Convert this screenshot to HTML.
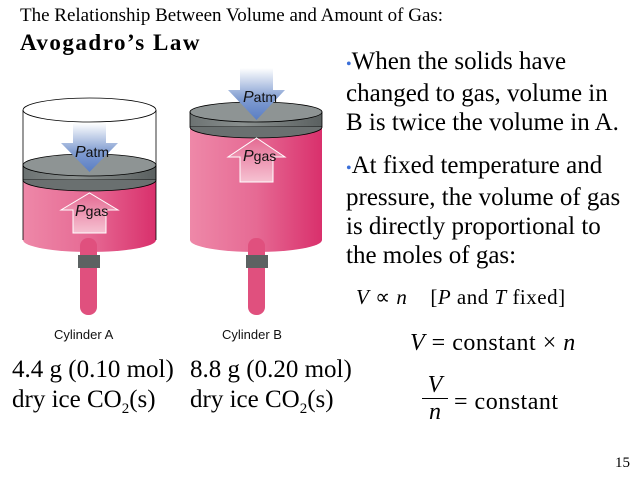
<!DOCTYPE html>
<html><head><meta charset="utf-8"><style>
body{margin:0;width:640px;height:481px;background:#fff;overflow:hidden;position:relative;font-family:"Liberation Serif",serif;}
.t{position:absolute;white-space:nowrap;color:#000;}
</style></head><body>
<svg width="640" height="481" style="position:absolute;left:0;top:0">
<defs>
<linearGradient id="pk" x1="0" x2="1"><stop offset="0" stop-color="#ee88a8"/><stop offset="0.5" stop-color="#e66a94"/><stop offset="1" stop-color="#d9306c"/></linearGradient>
<linearGradient id="gr" x1="0" x2="1"><stop offset="0" stop-color="#6c7272"/><stop offset="0.4" stop-color="#8a908f"/><stop offset="1" stop-color="#5a6060"/></linearGradient>
<linearGradient id="bl" x1="0" y1="0" x2="0" y2="1"><stop offset="0" stop-color="#fff"/><stop offset="0.6" stop-color="#7f9bd0"/><stop offset="1" stop-color="#5a7ec4"/></linearGradient>
<linearGradient id="pu" x1="0" y1="0" x2="0" y2="1"><stop offset="0" stop-color="#e46a92"/><stop offset="1" stop-color="#f6c2d2"/></linearGradient>
</defs>
<rect x="23" y="180" width="133" height="60" fill="url(#pk)"/>
<ellipse cx="89.5" cy="240" rx="66.5" ry="12" fill="url(#pk)"/>
<rect x="23" y="165" width="133" height="15" fill="url(#gr)" stroke="#000" stroke-width="0.8"/>
<ellipse cx="89.5" cy="165" rx="66.5" ry="11" fill="#8e9494" stroke="#000" stroke-width="0.8"/>
<path d="M23 180 A66.5 11 0 0 0 156 180" fill="#6a7070" stroke="#000" stroke-width="0.8"/>
<line x1="23" y1="110" x2="23" y2="240" stroke="#000" stroke-width="0.8"/>
<line x1="156" y1="110" x2="156" y2="240" stroke="#000" stroke-width="0.8"/>
<ellipse cx="89.5" cy="110" rx="66.5" ry="12" fill="none" stroke="#000" stroke-width="0.8"/>
<path d="M73 123 H106 V143 H118 L89.5 172 L61 143 H73Z" fill="url(#bl)"/>
<path d="M73 233 V210 H61 L89.5 193 L118 210 H106 V233Z" fill="url(#pu)" stroke="#fff" stroke-width="1"/>
<rect x="80" y="238" width="17" height="77" rx="8" fill="#e0507e"/>
<rect x="78" y="255" width="22" height="13" fill="#5c6262"/>
<rect x="190" y="127" width="132" height="113" fill="url(#pk)"/>
<ellipse cx="256" cy="240" rx="66" ry="12" fill="url(#pk)"/>
<rect x="190" y="112" width="132" height="15" fill="url(#gr)" stroke="#000" stroke-width="0.8"/>
<ellipse cx="256" cy="112" rx="66" ry="10" fill="#8e9494" stroke="#000" stroke-width="0.8"/>
<path d="M190 127 A66 11 0 0 0 322 127" fill="#6a7070" stroke="#000" stroke-width="0.8"/>
<path d="M240 68 H273 V90 H285 L256.5 120 L228 90 H240Z" fill="url(#bl)"/>
<path d="M240 182 V157 H228 L256.5 138 L285 157 H273 V182Z" fill="url(#pu)" stroke="#fff" stroke-width="1"/>
<rect x="248" y="238" width="17" height="77" rx="8" fill="#e0507e"/>
<rect x="246" y="255" width="22" height="13" fill="#5c6262"/>
<g font-family="Liberation Sans,sans-serif" font-size="14" fill="#111">
<text x="75" y="157"><tspan font-style="italic" font-size="16">P</tspan>atm</text>
<text x="75" y="216"><tspan font-style="italic" font-size="16">P</tspan>gas</text>
<text x="243" y="102"><tspan font-style="italic" font-size="16">P</tspan>atm</text>
<text x="243" y="161"><tspan font-style="italic" font-size="16">P</tspan>gas</text>
<text x="54" y="339" font-size="13">Cylinder A</text>
<text x="222" y="339" font-size="13">Cylinder B</text>
</g>
</svg>
<div class="t" style="left:20px;top:5px;font-size:19px">The Relationship Between Volume and Amount of Gas:</div>
<div class="t" style="left:20px;top:30px;font-size:23px;font-weight:bold;letter-spacing:1.5px">Avogadro’s Law</div>
<div class="t" style="left:346px;top:47px;font-size:25px;line-height:29px"><span style="color:#3b6fd8;font-size:16px">•</span>When the solids have<br>changed to gas, volume in<br>B is twice the volume in A.</div>
<div class="t" style="left:346px;top:151px;font-size:25px;line-height:29px"><span style="color:#3b6fd8;font-size:16px">•</span>At fixed temperature and<br>pressure, the volume of gas<br>is directly proportional to<br>the moles of gas:</div>
<div class="t" style="left:356px;top:285px;font-size:21px;letter-spacing:0.5px"><i>V</i> ∝ <i>n</i> &nbsp;&nbsp; [<i>P</i> and <i>T</i> fixed]</div>
<div class="t" style="left:410px;top:330px;font-size:24px;letter-spacing:0.5px"><i>V</i> = constant × <i>n</i></div>
<div class="t" style="left:422px;top:372px;font-size:24px;text-align:center;width:26px;line-height:26px"><i>V</i><div style="border-top:1.5px solid #000"></div><i>n</i></div>
<div class="t" style="left:454px;top:389px;font-size:24px;letter-spacing:0.5px">= constant</div>
<div class="t" style="left:12px;top:355px;font-size:25px;line-height:30px">4.4 g (0.10 mol)<br>dry ice CO<sub style="font-size:15px">2</sub>(s)</div>
<div class="t" style="left:190px;top:355px;font-size:25px;line-height:30px">8.8 g (0.20 mol)<br>dry ice CO<sub style="font-size:15px">2</sub>(s)</div>
<div class="t" style="left:615px;top:455px;font-size:15px">15</div>
</body></html>
